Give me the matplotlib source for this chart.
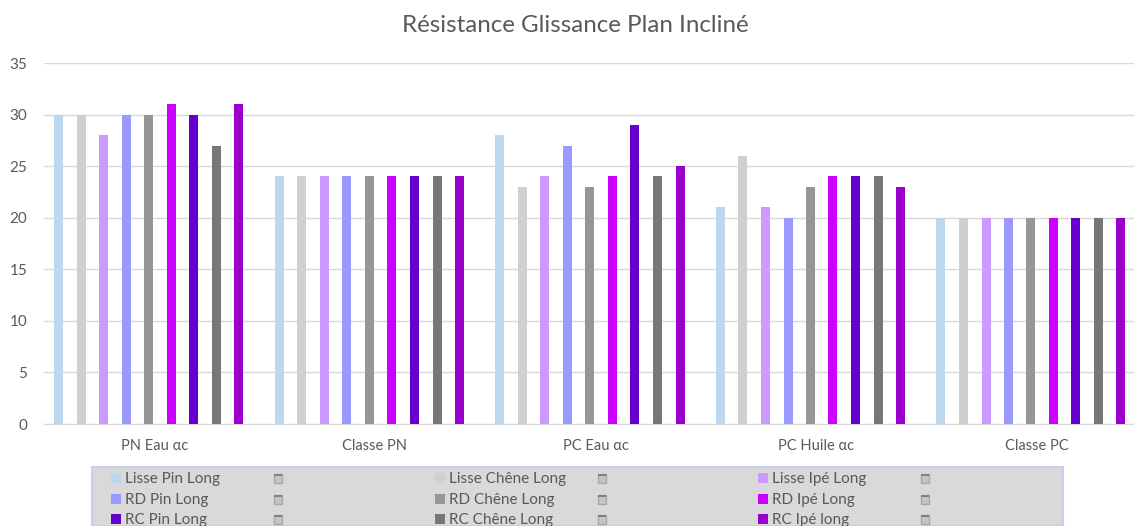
import matplotlib
matplotlib.use("Agg")
import matplotlib.pyplot as plt
from matplotlib.patches import Rectangle

plt.rcParams['font.family'] = ['Lato', 'DejaVu Sans']

W, H = 1134, 526
categories = ["PN Eau αc", "Classe PN", "PC Eau αc", "PC Huile αc", "Classe PC"]
series_names = ["Lisse Pin Long", "Lisse Chêne Long", "Lisse Ipé Long",
                "RD Pin Long", "RD Chêne Long", "RD Ipé Long",
                "RC Pin Long", "RC Chêne Long", "RC Ipé long"]
colors = ["#BDD7EE", "#D0CECE", "#CC99FF",
          "#9999FF", "#969696", "#CC00FF",
          "#6600CC", "#777777", "#9900CC"]
lisse_pin = [30, 24, 28, 21, 20]
lisse_chene = [30, 24, 23, 26, 20]
lisse_ipe = [28, 24, 24, 21, 20]
rd_pin = [30, 24, 27, 20, 20]
rd_chene = [30, 24, 23, 23, 20]
rd_ipe = [31, 24, 24, 24, 20]
rc_pin = [30, 24, 29, 24, 20]
rc_chene = [27, 24, 24, 24, 20]
rc_ipe = [31, 24, 25, 23, 20]
series = [lisse_pin, lisse_chene, lisse_ipe, rd_pin, rd_chene, rd_ipe, rc_pin, rc_chene, rc_ipe]
yticks = [0, 5, 10, 15, 20, 25, 30, 35]

TXT = "#595959"
fig = plt.figure(figsize=(W / 100, H / 100), dpi=100, facecolor="white")
ax = fig.add_axes([44 / W, 1 - 424 / H, (W - 44) / W, (424 - 63) / H])

group_px = 220.5
step = 22.5 / group_px
bar_w = 9.0 / group_px
label_shift = 5.5 / group_px
for i, vals in enumerate(series):
    xs = [g + (i - 4) * step for g in range(len(categories))]
    ax.bar(xs, vals, width=bar_w, color=colors[i], zorder=3)

ax.set_xlim((44 - 149) / group_px, (W - 149) / group_px)
ax.set_ylim(0, 35)
ax.set_yticks(yticks)
ax.set_xticks([g + label_shift for g in range(len(categories))])
ax.set_xticklabels(categories)
ax.grid(axis="y", color="#D9D9D9", linewidth=1.0, zorder=0)
ax.set_axisbelow(True)
for s in ["top", "right", "left"]:
    ax.spines[s].set_visible(False)
ax.spines["bottom"].set_color("#D9D9D9")
ax.tick_params(axis="both", length=0, colors=TXT)
ax.tick_params(axis="y", labelsize=11, pad=12)
ax.tick_params(axis="x", labelsize=10.5, pad=11)

fig.text(575.5 / W, 1 - 25 / H, "Résistance Glissance Plan Incliné", ha="center", va="center",
         fontsize=17.4, color=TXT)

# Legend panel (cropped by the bottom of the picture)
fig.add_artist(Rectangle((92 / W, 0), (1063 - 92) / W, (H - 467) / H, transform=fig.transFigure,
                         facecolor="#D9D9D9", edgecolor="#CCCCEE", linewidth=1.5))

col_x = [111, 435, 758]
row_y = [478, 499, 519]
for c, cx in enumerate(col_x):
    for r, ry in enumerate(row_y):
        k = r * 3 + c
        fig.add_artist(Rectangle((cx / W, 1 - (ry + 5) / H), 10 / W, 10 / H, transform=fig.transFigure,
                                 facecolor=colors[k], edgecolor="none"))
        fig.text((cx + 14) / W, 1 - (ry + 1) / H, series_names[k], ha="left", va="center",
                 fontsize=11, color=TXT)
        # small placeholder glyph after each legend entry
        ix = cx + 163
        fig.add_artist(Rectangle((ix / W, 1 - (ry + 5) / H), 8 / W, 9 / H, transform=fig.transFigure,
                                 facecolor="#C4C4C4", edgecolor="#A8A8A8", linewidth=1.0))
        fig.add_artist(Rectangle((ix / W, 1 - (ry - 2) / H), 8 / W, 2 / H, transform=fig.transFigure,
                                 facecolor="#808080", edgecolor="none"))

fig.savefig("out.png", dpi=100, facecolor="white")
